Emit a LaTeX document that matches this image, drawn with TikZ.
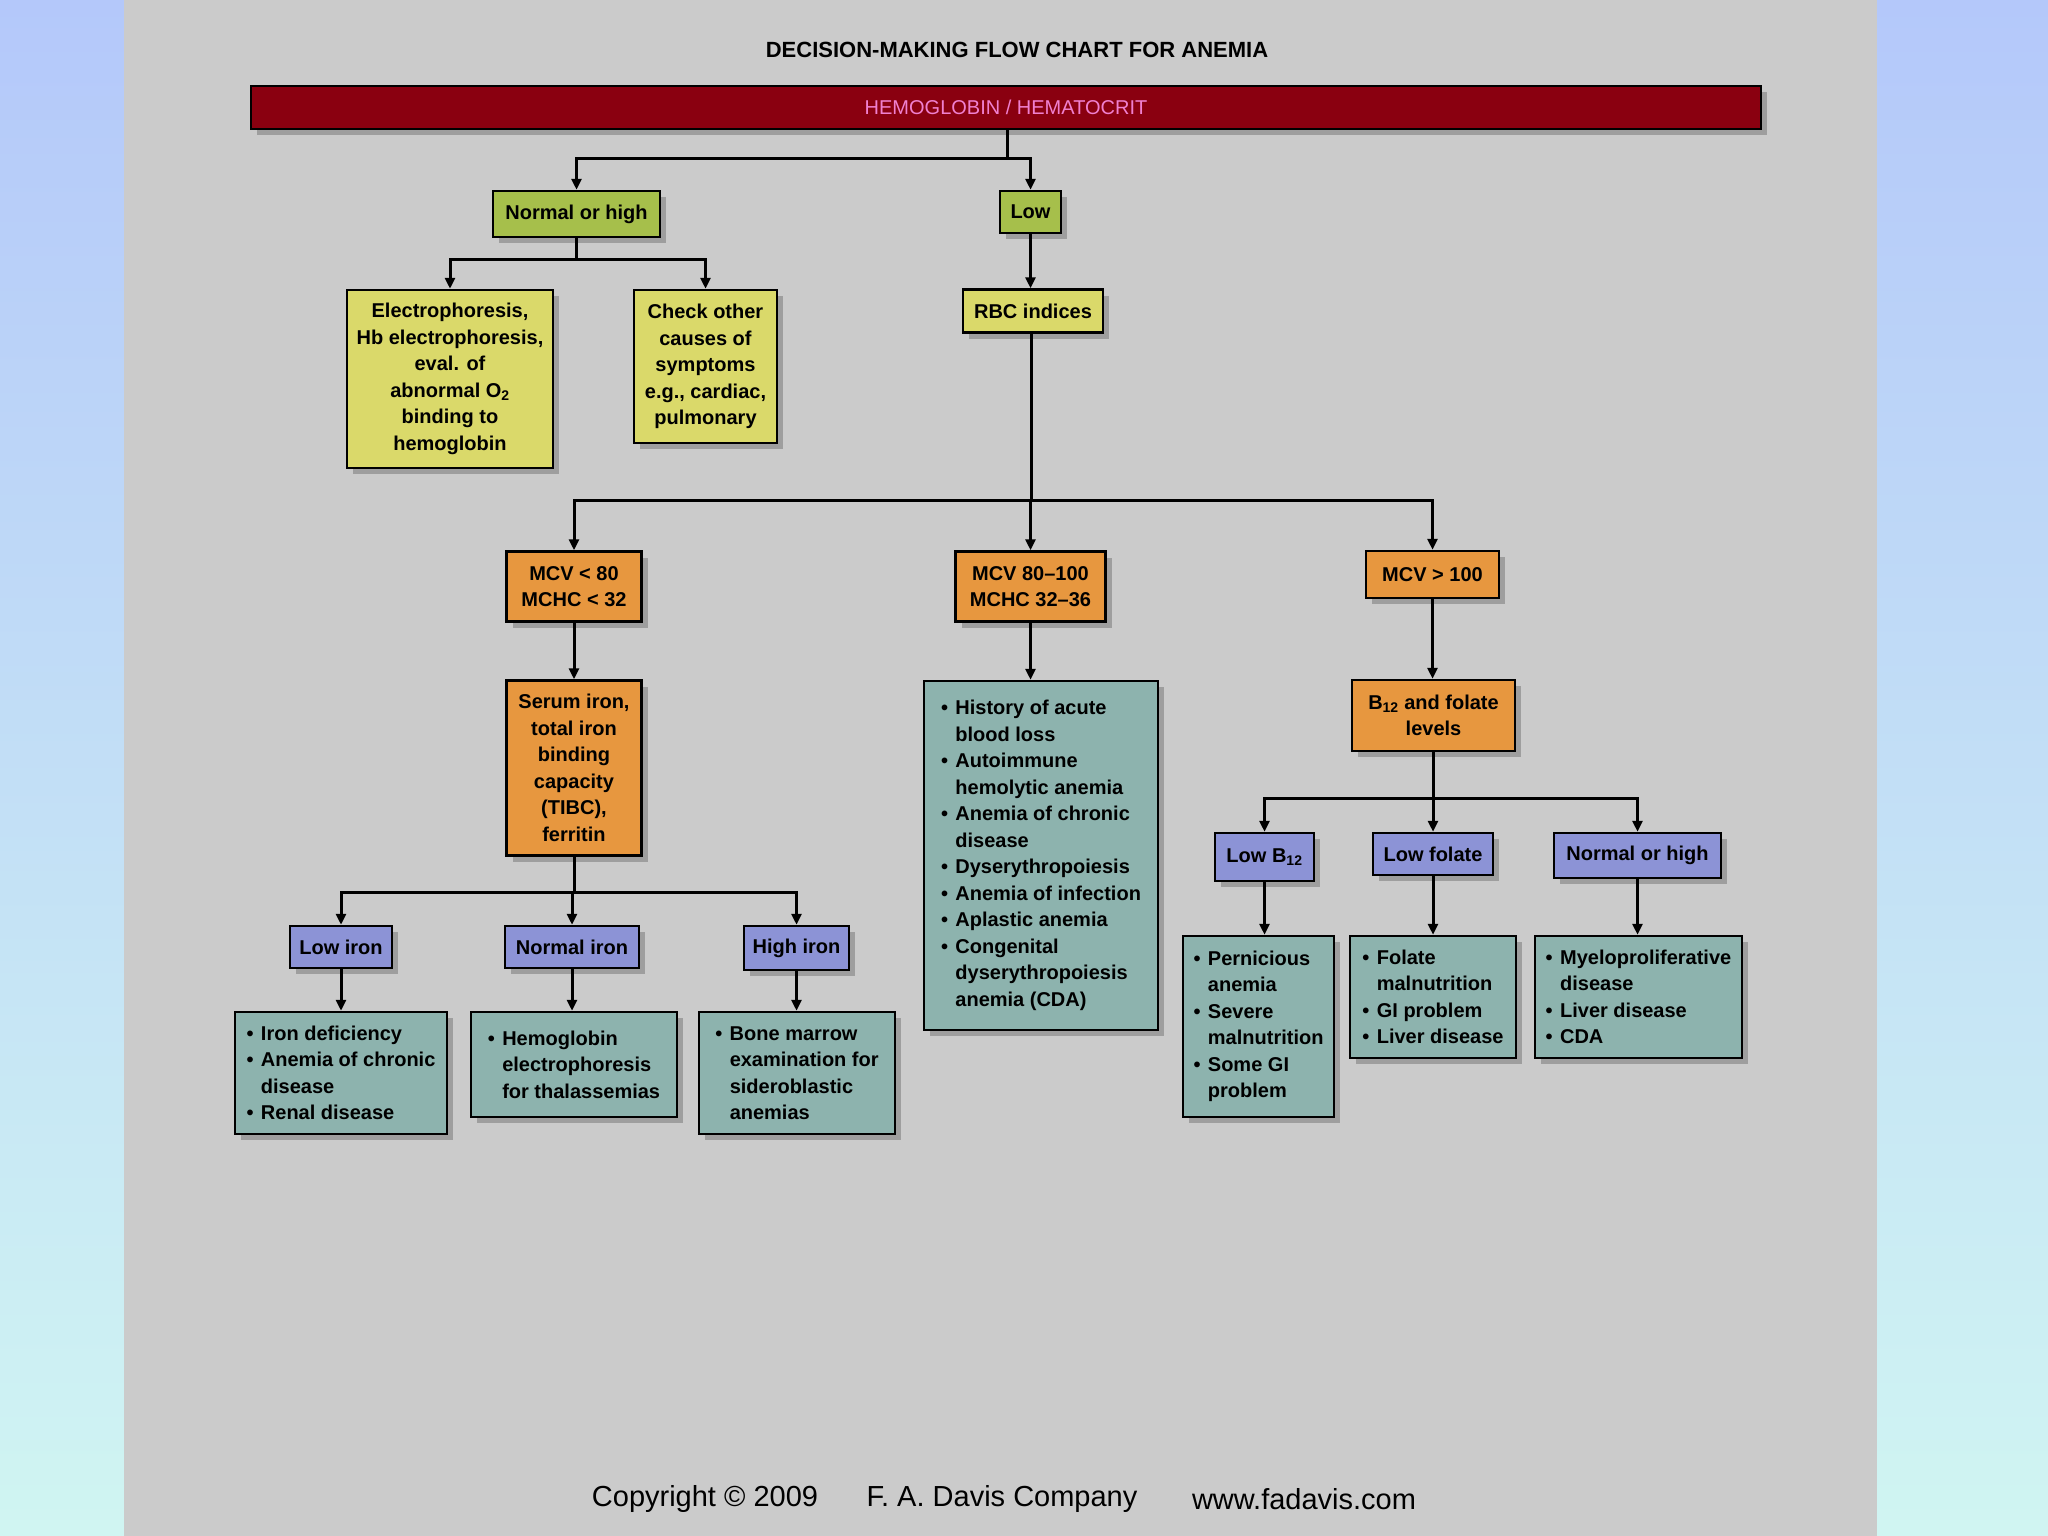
\documentclass[tikz,border=0pt]{standalone}
\usepackage{fontspec}
\setmainfont{Liberation Sans}
\usetikzlibrary{arrows.meta,shadows}
\definecolor{panelgray}{HTML}{CBCBCB}
\definecolor{sidetop}{HTML}{B4C8FA}
\definecolor{sidebot}{HTML}{D0F5F2}
\definecolor{barred}{HTML}{8A0010}
\definecolor{barpink}{HTML}{F080D0}
\definecolor{cgreen}{HTML}{A6BF4B}
\definecolor{cyellow}{HTML}{DAD96A}
\definecolor{corange}{HTML}{E7973F}
\definecolor{cblue}{HTML}{8C93D6}
\definecolor{cteal}{HTML}{8DB3AE}
\newcommand\bxfont{\fontsize{20}{26.5}\selectfont\bfseries}
\newcommand\itm{\makebox[0.72em][l]{•}}
\newcommand\ind{\hspace*{0.72em}}
\tikzset{
  bx/.style={draw=black, line width=2.5pt, inner sep=0pt, align=center, font=\bxfont, text=black,
    drop shadow={shadow xshift=6pt, shadow yshift=-6pt, fill=black, opacity=0.22}},
  grn/.style={bx, fill=cgreen},
  ylw/.style={bx, fill=cyellow},
  org/.style={bx, fill=corange},
  blu/.style={bx, fill=cblue},
  tel/.style={bx, fill=cteal, align=left},
  conn/.style={line width=3pt, draw=black},
  arr/.style={conn, -{Triangle[length=11pt,width=10pt]}},
}
\begin{document}
\begin{tikzpicture}[x=1pt,y=-1pt]
\useasboundingbox (0,0) rectangle (2048,1536);
% background
\shade[top color=sidetop, bottom color=sidebot] (0,0) rectangle (124,1536);
\shade[top color=sidetop, bottom color=sidebot] (1877,0) rectangle (2048,1536);
\fill[panelgray] (124,0) rectangle (1877,1536);

% title
\node[font=\fontsize{22}{26}\selectfont\bfseries] (title) at (1017,50) {DECISION-MAKING FLOW CHART FOR ANEMIA};

% red bar
\node[bx, fill=barred, minimum width=1510, minimum height=43, text=barpink, font=\fontsize{20}{24}\selectfont] (bar) at (1006,107.5) {HEMOGLOBIN / HEMATOCRIT};

% level 1
\node[grn, minimum width=167, minimum height=46] (nh) at (576.5,214) {Normal or high};
\node[grn, minimum width=61, minimum height=42] (low) at (1030.5,212) {Low};

% level 2
\node[ylw, minimum width=206, minimum height=178] (elec) at (450,379)
  {Electrophoresis,\\Hb electrophoresis,\\eval. of\\abnormal O\textsubscript{2}\\binding to\\hemoglobin};
\node[ylw, minimum width=143, minimum height=153] (check) at (705.5,366.5)
  {Check other\\causes of\\symptoms\\e.g., cardiac,\\pulmonary};
\node[ylw, minimum width=140, minimum height=43] (rbc) at (1033,311) {RBC indices};

% MCV level
\node[org, minimum width=135, minimum height=70] (mcv1) at (574,586.5) {MCV < 80\\MCHC < 32};
\node[org, minimum width=150, minimum height=70] (mcv2) at (1030.5,586.5) {MCV 80–100\\MCHC 32–36};
\node[org, minimum width=133, minimum height=47] (mcv3) at (1432.5,574.5) {MCV > 100};

% left branch
\node[org, minimum width=135, minimum height=175] (serum) at (574,768)
  {Serum iron,\\total iron\\binding\\capacity\\(TIBC),\\ferritin};
\node[blu, minimum width=102, minimum height=42] (lowiron) at (341,947) {Low iron};
\node[blu, minimum width=134, minimum height=42] (normiron) at (572,947) {Normal iron};
\node[blu, minimum width=105, minimum height=44] (highiron) at (796.5,948) {High iron};
\node[tel, minimum width=212, minimum height=122] (lir) at (341,1073)
  {\itm Iron deficiency\\\itm Anemia of chronic\\\ind disease\\\itm Renal disease};
\node[tel, minimum width=206, minimum height=105] (nir) at (574,1064.5)
  {\itm Hemoglobin\\\ind electrophoresis\\\ind for thalassemias};
\node[tel, minimum width=196, minimum height=122] (hir) at (797,1073)
  {\itm Bone marrow\\\ind examination for\\\ind sideroblastic\\\ind anemias};

% middle branch
\node[tel, minimum width=234, minimum height=349] (mid) at (1041,855.5)
  {\itm History of acute\\\ind blood loss\\\itm Autoimmune\\\ind hemolytic anemia\\\itm Anemia of chronic\\\ind disease\\\itm Dyserythropoiesis\\\itm Anemia of infection\\\itm Aplastic anemia\\\itm Congenital\\\ind dyserythropoiesis\\\ind anemia (CDA)};

% right branch
\node[org, minimum width=163, minimum height=71] (b12) at (1433.5,715.5) {B\textsubscript{12} and folate\\levels};
\node[blu, minimum width=99, minimum height=48] (lowb12) at (1264.5,857) {Low B\textsubscript{12}};
\node[blu, minimum width=120, minimum height=42] (lowfol) at (1433,854) {Low folate};
\node[blu, minimum width=167, minimum height=45] (nhb) at (1637.5,855.5) {Normal or high};
\node[tel, minimum width=151, minimum height=181] (lbr) at (1258.5,1026.5)
  {\itm Pernicious\\\ind anemia\\\itm Severe\\\ind malnutrition\\\itm Some GI\\\ind problem};
\node[tel, minimum width=166, minimum height=122] (lfr) at (1433,997)
  {\itm Folate\\\ind malnutrition\\\itm GI problem\\\itm Liver disease};
\node[tel, minimum width=207, minimum height=122] (nhr) at (1638.5,997)
  {\itm Myeloproliferative\\\ind disease\\\itm Liver disease\\\itm CDA};

% junctions
\coordinate (j1) at (1007,159);
\coordinate (j2) at (576.5,259);
\coordinate (j3) at (1031,500);
\coordinate (j4) at (574,892);
\coordinate (j5) at (1433,798);

% connectors
\draw[conn] (bar.south -| j1) -- (j1);
\draw[arr] (j1) -| (nh.north);
\draw[arr] (j1) -| (low.north);
\draw[conn] (nh.south) -- (j2);
\draw[arr] (j2) -| (elec.north);
\draw[arr] (j2) -| (check.north);
\draw[arr] (low.south) -- (low.south |- rbc.north);
\draw[conn] (rbc.south -| j3) -- (j3);
\draw[arr] (j3) -| (mcv1.north);
\draw[arr] (j3) -| (mcv2.north);
\draw[arr] (j3) -| (mcv3.north);
\draw[arr] (mcv1.south) -- (serum.north);
\draw[arr] (mcv2.south) -- (mcv2.south |- mid.north);
\draw[arr] (mcv3.south) -- (mcv3.south |- b12.north);
\draw[conn] (serum.south) -- (j4);
\draw[arr] (j4) -| (lowiron.north);
\draw[arr] (j4) -| (normiron.north);
\draw[arr] (j4) -| (highiron.north);
\draw[arr] (lowiron.south) -- (lowiron.south |- lir.north);
\draw[arr] (normiron.south) -- (normiron.south |- nir.north);
\draw[arr] (highiron.south) -- (highiron.south |- hir.north);
\draw[conn] (b12.south -| j5) -- (j5);
\draw[arr] (j5) -| (lowb12.north);
\draw[arr] (j5) -| (lowfol.north);
\draw[arr] (j5) -| (nhb.north);
\draw[arr] (lowb12.south) -- (lowb12.south |- lbr.north);
\draw[arr] (lowfol.south) -- (lowfol.south |- lfr.north);
\draw[arr] (nhb.south) -- (nhb.south |- nhr.north);

% copyright
\node[font=\fontsize{29}{34}\selectfont] (cp1) at (705,1499) {Copyright © 2009};
\node[font=\fontsize{29}{34}\selectfont] (cp2) at (1002,1499) {F. A. Davis Company};
\node[font=\fontsize{29}{34}\selectfont] (cp3) at (1304,1499) {www.fadavis.com};
\end{tikzpicture}
\end{document}
